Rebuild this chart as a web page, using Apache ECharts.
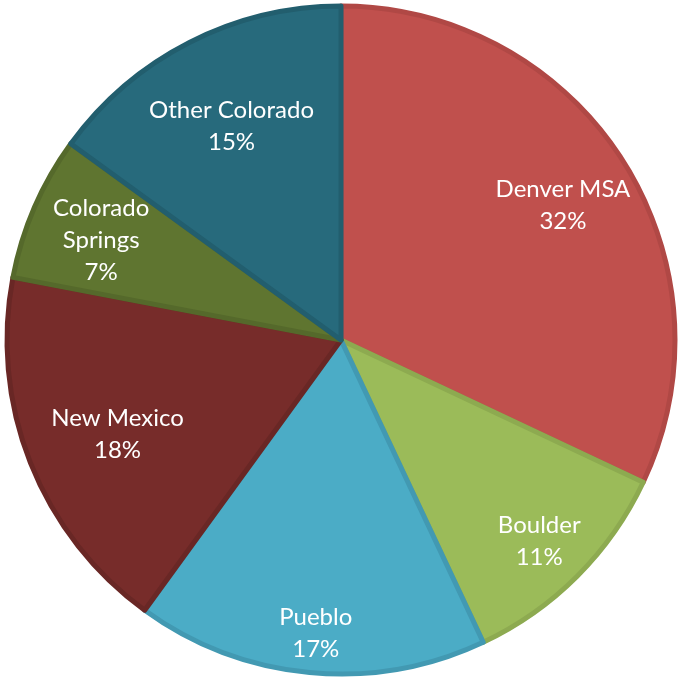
<!DOCTYPE html>
<html>
<head>
<meta charset="utf-8">
<script src="https://cdn.jsdelivr.net/npm/echarts@6/dist/echarts.min.js"></script>
<style>html,body{margin:0;padding:0;background:#fff}#c{width:681px;height:679px}</style>
</head>
<body>
<div id="c"></div>
<script>
const categories = ['Denver MSA', 'Boulder', 'Pueblo', 'New Mexico', 'Colorado\nSprings', 'Other Colorado'];
const values = [32, 11, 17, 18, 7, 15];
const fills = ['#C0504D', '#9BBB59', '#4BACC6', '#772C2A', '#5F7530', '#276A7C'];
const borders = ['#B04845', '#8DAA50', '#4299B2', '#692725', '#55692B', '#225E6E'];
// radial label nudges (style only, px)
const labelNudge = [-3, 14, 26, -21, 0, -18];

const chart = echarts.init(document.getElementById('c'), null, {renderer: 'canvas'});
const R = 334;
const total = values.reduce((a, b) => a + b, 0);
let cum = 0;
const data = [], labelData = [];
categories.forEach((n, i) => {
  const mid = (cum + values[i] / 2) / total * 2 * Math.PI;
  cum += values[i];
  const d = labelNudge[i];
  data.push({name: n, value: values[i],
    itemStyle: {color: fills[i], borderColor: borders[i], borderWidth: 5}});
  labelData.push({name: n, value: values[i],
    label: {offset: [d * Math.sin(mid) + 2, -d * Math.cos(mid) + 5]}});
});
chart.setOption({
  animation: false,
  series: [
    {
      type: 'pie', center: [341, 340], radius: [0, R], startAngle: 90, clockwise: true,
      data: data, label: {show: false}, labelLine: {show: false}, silent: true
    },
    {
      type: 'pie', center: [341, 340], radius: [R * 0.56, R], startAngle: 90, clockwise: true,
      data: labelData, silent: true,
      itemStyle: {color: 'rgba(0,0,0,0)', borderWidth: 0},
      labelLine: {show: false},
      label: {
        show: true, position: 'inside', color: '#fff',
        fontFamily: 'Lato', fontSize: 24, lineHeight: 32,
        formatter: p => p.name + '\n' + p.value + '%'
      }
    }
  ]
});
</script>
</body>
</html>
